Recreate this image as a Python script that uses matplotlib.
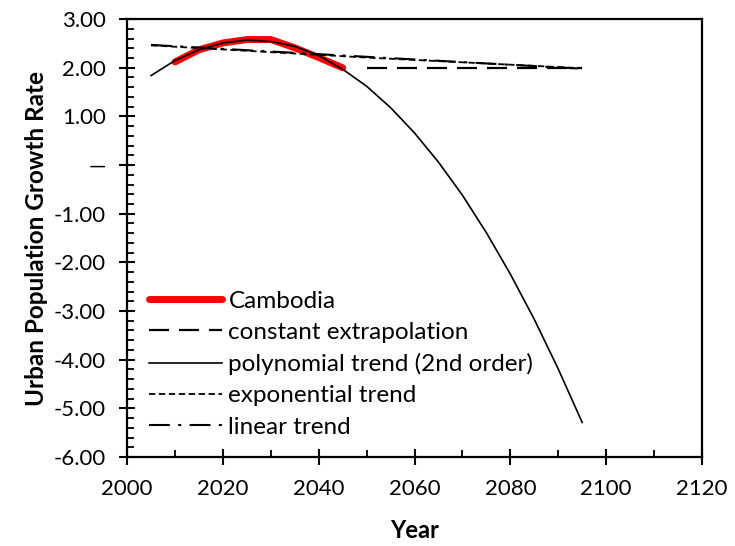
import matplotlib.pyplot as plt
from matplotlib.ticker import MultipleLocator, FuncFormatter

plt.rcParams['font.family'] = ['Lato', 'DejaVu Sans']

# Cambodia, values
lata_kh = [2010, 2015, 2020, 2025, 2030, 2035, 2040, 2045]
kh = [2.12, 2.37, 2.51, 2.58, 2.58, 2.41, 2.21, 2.00]

lata_const = [2050, 2095]
const = [2.00, 2.00]

lata_poly = [2005, 2010, 2015, 2020, 2025, 2030, 2035, 2040, 2045, 2050,
             2055, 2060, 2065, 2070, 2075, 2080, 2085, 2090, 2095]
poly = [1.84, 2.15, 2.37, 2.51, 2.57, 2.54, 2.44, 2.25, 1.97, 1.62,
        1.18, 0.66, 0.06, -0.62, -1.39, -2.24, -3.17, -4.19, -5.29]

lata_exp = [2005, 2050, 2095]
expo = [2.46, 2.21, 1.99]

lata_lin = [2005, 2095]
lin = [2.47, 1.98]

fig = plt.figure(figsize=(7.35, 5.46), dpi=100)
ax = fig.add_axes([0.173, 0.163, 0.782, 0.802])

ax.plot(lata_kh, kh, color='red', lw=5.0, solid_capstyle='round', label='Cambodia')
ax.plot(lata_const, const, color='black', lw=1.6, dashes=(9, 4.5), label='constant extrapolation')
ax.plot(lata_poly, poly, color='black', lw=1.2, label='polynomial trend (2nd order)')
ax.plot(lata_exp, expo, color='black', lw=1.3, dashes=(3.5, 2), label='exponential trend')
ax.plot(lata_lin, lin, color='black', lw=1.5, dashes=(10, 4, 1.5, 4), label='linear trend')

ax.set_xlim(2000, 2120)
ax.set_ylim(-6, 3)
ax.xaxis.set_major_locator(MultipleLocator(20))
ax.xaxis.set_minor_locator(MultipleLocator(10))
ax.yaxis.set_major_locator(MultipleLocator(1))
ax.yaxis.set_minor_locator(MultipleLocator(0.2))
ax.yaxis.set_major_formatter(FuncFormatter(lambda v, p: '—' if abs(v) < 1e-9 else '%.2f' % v))

ax.tick_params(which='major', direction='inout', length=11, width=1.5, labelsize=16, pad=10)
ax.tick_params(which='minor', direction='in', length=5, width=1.3)
ax.tick_params(top=False, right=False, which='both')
for s in ax.spines.values():
    s.set_linewidth(1.6)

ax.set_xlabel('Year', fontsize=17, fontweight='bold', labelpad=15)
ax.set_ylabel('Urban Population Growth Rate', fontsize=17.5, fontweight='bold', labelpad=4)

ax.legend(loc='lower left', frameon=False, fontsize=17.5, handlelength=3.0,
          handletextpad=0.25, labelspacing=0.42, borderaxespad=0.4,
          bbox_to_anchor=(0.005, 0.0))

fig.savefig('out.png', dpi=100)
